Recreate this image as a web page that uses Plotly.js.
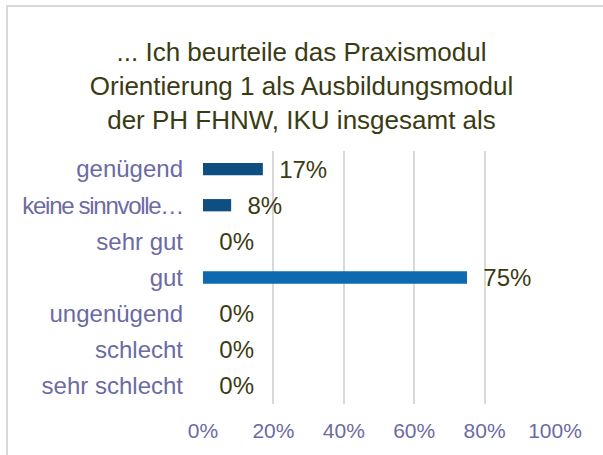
<!DOCTYPE html>
<html>
<head>
<meta charset="utf-8">
<script src="https://cdn.plot.ly/plotly-3.0.1.min.js"></script>
<style>
html,body{margin:0;padding:0;background:#fff;}
#chart{width:603px;height:455px;position:relative;}
#frame{position:absolute;left:6px;top:5px;width:700px;height:600px;border-left:2px solid #d9d9d9;border-top:2px solid #d9d9d9;pointer-events:none;}
</style>
</head>
<body>
<div style="position:relative;width:603px;height:455px;overflow:hidden;">
<div id="chart"></div>
<div id="frame"></div>
</div>
<script>
var categories = ["genügend", "keine sinnvolle…", "sehr gut", "gut", "ungenügend", "schlecht", "sehr schlecht"];
var values = [0.17, 0.08, 0, 0.75, 0, 0, 0];
var barColors = ["#0e4e80", "#0e4e80", "#0e4e80", "#0e6ab0", "#0e4e80", "#0e4e80", "#0e4e80"];
var xTickVals = [0, 0.2, 0.4, 0.6, 0.8, 1.0];
var xTickText = ["0%", "20%", "40%", "60%", "80%", "100%"];
var titleText = "... Ich beurteile das Praxismodul<br>Orientierung 1 als Ausbildungsmodul<br>der PH FHNW, IKU insgesamt als";

// long (truncated) labels are drawn slightly condensed, like the original
var yTickText = categories.map(function(c){
  return c.length > 13 ? '<span style="letter-spacing:-1.3px">' + c + '</span>' : c;
});

var trace = {
  type: "bar",
  orientation: "h",
  y: categories,
  x: values,
  width: 0.34,
  marker: {color: barColors},
  text: values.map(function(v){ return "\u00a0\u00a0" + Math.round(v*100) + "%"; }),
  textposition: "outside",
  constraintext: "none",
  cliponaxis: false,
  textfont: {family: "Liberation Sans, Arial, sans-serif", size: 24, color: "#3b3b12"},
  hoverinfo: "none"
};

var layout = {
  width: 603, height: 455,
  paper_bgcolor: "#ffffff", plot_bgcolor: "#ffffff",
  margin: {l: 203, r: 48, t: 151, b: 51, pad: 0},
  showlegend: false,
  font: {family: "Liberation Sans, Arial, sans-serif"},
  title: {
    text: titleText,
    x: 0.5, xanchor: "center", xref: "container",
    y: 1 - 61/455, yanchor: "top",
    font: {family: "Liberation Sans, Arial, sans-serif", size: 26, color: "#3b3b12"}
  },
  xaxis: {
    range: [0, 1],
    tickvals: xTickVals, ticktext: xTickText,
    showgrid: true, gridcolor: "#d9d9d9", gridwidth: 2,
    zeroline: false, showline: false,
    ticks: "", ticklen: 0,
    ticklabelstandoff: 12,
    tickfont: {size: 21, color: "#6b6ba3"},
    fixedrange: true
  },
  yaxis: {
    autorange: "reversed",
    tickmode: "array", tickvals: categories, ticktext: yTickText,
    showgrid: false, zeroline: false, showline: false,
    ticks: "", ticklen: 0,
    ticklabelstandoff: 19,
    tickfont: {size: 24, color: "#6b6ba3"},
    fixedrange: true
  }
};
Plotly.newPlot("chart", [trace], layout, {staticPlot: true});
</script>
</body>
</html>
